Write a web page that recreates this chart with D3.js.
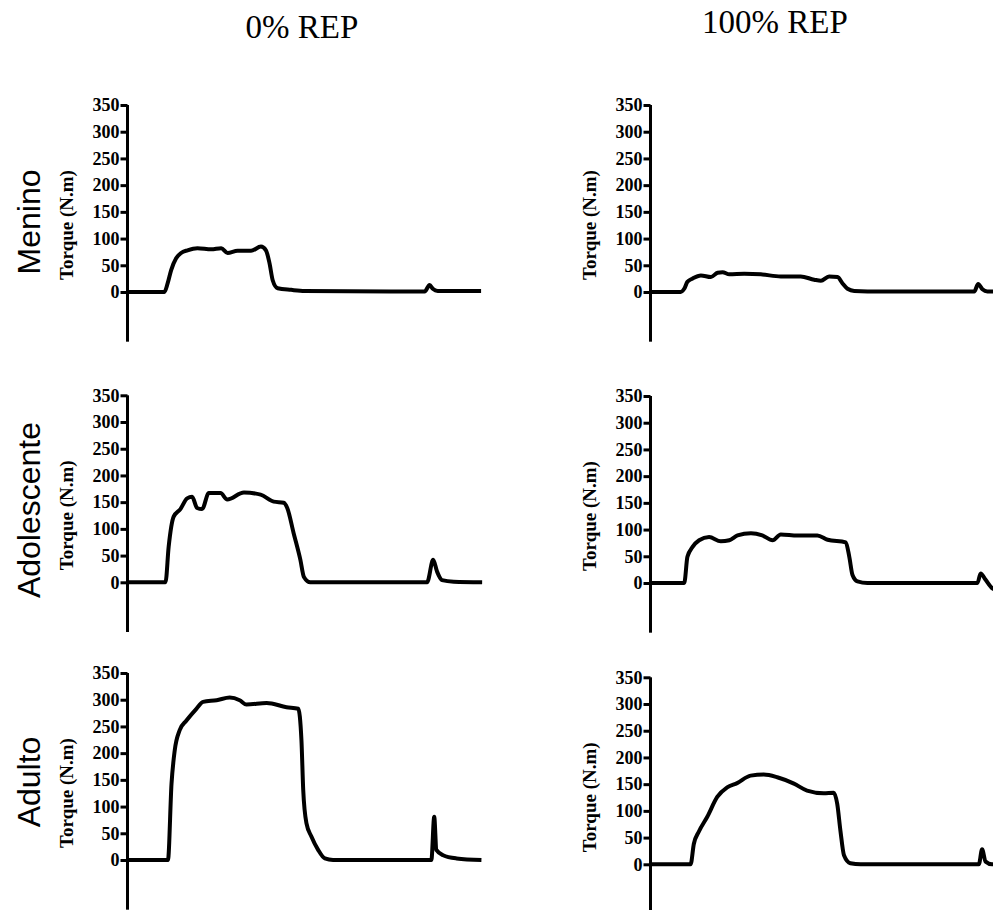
<!DOCTYPE html>
<html>
<head>
<meta charset="utf-8">
<script src="https://cdn.jsdelivr.net/npm/d3@7"></script>
<style>
 body{margin:0;background:#fff}
 .axis path,.axis line{stroke:#000;stroke-width:3}
 .axis text{font-family:"Liberation Serif","Times New Roman",serif;font-weight:bold;font-size:18px;fill:#000}
</style>
</head>
<body>
<svg id="chart" width="993" height="910"></svg>
<script>
// ---- data (time in arbitrary units 0..100, torque in N.m) ----
var columnTitles=["0% REP","100% REP"]
var rowTitles=["Menino","Adolescente","Adulto"]
var yTicks=[0,50,100,150,200,250,300,350]

var meninoRep0T=[0,10.4,11.3,12.3,13.7,15.1,16.9,19.7,23.6,26.4,28.2,31,34.8,37.6,39,40,40.9,42.3,46.1,49.9,83.7,85.1,86,87.4,99.6]
var meninoRep0=[0,0,16,41,63,73,78,82,80,82,73,77,77,85,78,54,22,7,4,2,1,13,6,2,2]

var meninoRep100T=[0,8.5,9.5,10.4,11.8,14.2,17,18.9,20.3,22.2,26.4,31.1,36.7,42.3,46.1,48,50.3,52.7,54.1,55.5,57.4,64.9,91.2,92.3,93.5,94.9,100]
var meninoRep100=[0,0,6,19,25,31,28,36,37,33,34,33,29,29,23,21,29,28,16,6,2,1,1,15,5,1,1]

var adolRep0T=[0,10.7,11.6,13,14.9,16.8,18.2,19.6,21,22.9,26.2,28.1,32.8,37.5,41.2,44,45,46.8,48.7,49.7,51.5,84.4,86.1,87.2,88.6,91.9,99.9]
var adolRep0=[0,0,67,123,137,157,160,139,137,167,167,155,168,164,151,149,139,92,42,10,0,0,42,20,4,1,0]

var adolRep100T=[0,9.5,10.4,11.8,13.7,16.5,19.8,22.2,24.5,28.3,31.5,34.4,36.7,41.4,47,49.9,55,56,56.9,58.3,61.1,92.1,93,94.4,96.3,98]
var adolRep100=[0,0,49,67,80,86,78,80,89,93,89,80,91,89,89,81,76,49,15,3,0,0,18,6,-10,-14]

var adultoRep0T=[0,11.4,12.4,13.3,14.7,16.6,19.4,21.3,25.1,28.8,31.6,33.5,39.2,44.8,48.1,49,49.5,50.4,51.8,53.7,55.6,57.9,85.6,86.4,87,88.9,92.7,99.7]
var adultoRep0=[0,0,143,205,243,261,283,296,299,304,299,291,294,286,283,224,131,69,44,19,3,0,0,81,19,9,3,0]

var adultoRep100T=[0,11.3,12.2,13.6,16,18.8,21.6,24.4,28.2,31.9,35.7,40.4,44.1,48.8,51.6,52.6,53.5,54.5,56.3,59.2,92.5,93.4,94.4,96.2,100]
var adultoRep100=[0,0,38,61,89,126,144,152,166,168,163,151,138,133,134,113,63,17,2,0,0,28,5,0,0]

var panelTimes=[[meninoRep0T,meninoRep100T],[adolRep0T,adolRep100T],[adultoRep0T,adultoRep100T]]
var panelValues=[[meninoRep0,meninoRep100],[adolRep0,adolRep100],[adultoRep0,adultoRep100]]

// ---- layout ----
var colAxisX=[127.5,650.5]
var rowZeroY=[[292,292],[582.3,583],[860,864.3]]
var pxPerUnit=187/350
var plotW=355
var yMin=-93

var svg=d3.select("#chart")

// column titles
svg.append("text").attr("x",302).attr("y",38).attr("text-anchor","middle")
 .attr("font-family","Liberation Serif, Times New Roman, serif").attr("font-size","33px")
 .text(columnTitles[0])
svg.append("text").attr("x",775).attr("y",33).attr("text-anchor","middle")
 .attr("font-family","Liberation Serif, Times New Roman, serif").attr("font-size","33px")
 .text(columnTitles[1])

// row titles
var rowLabelY=[222,510,782]
rowTitles.forEach(function(t,i){
  svg.append("text")
   .attr("transform","translate(40,"+rowLabelY[i]+")rotate(-90)")
   .attr("text-anchor","middle")
   .attr("font-family","Liberation Sans, Arial, sans-serif")
   .attr("font-size","32px")
   .text(t)
})

for(var r=0;r<3;r++)
{
  for(var c=0;c<2;c++)
  {
    var zeroY=rowZeroY[r][c]
    var x0=colAxisX[c]

    var xScale=d3.scaleLinear().domain([0,100]).range([x0,x0+plotW])
    var yScale=d3.scaleLinear().domain([0,350]).range([zeroY,zeroY-350*pxPerUnit])

    // axis line runs below zero like in the original
    svg.append("line")
     .attr("x1",x0).attr("x2",x0)
     .attr("y1",yScale(350)).attr("y2",yScale(yMin))
     .attr("stroke","#000").attr("stroke-width",3)

    var g=svg.append("g").attr("class","axis")
     .attr("transform","translate("+x0+",0)")
     .call(d3.axisLeft(yScale).tickValues(yTicks).tickSize(7).tickPadding(1).tickSizeOuter(0))
    g.select(".domain").remove()

    svg.append("text")
     .attr("transform","translate("+(x0-55)+","+(zeroY-67)+")rotate(-90)")
     .attr("text-anchor","middle")
     .attr("font-family","Liberation Serif, Times New Roman, serif")
     .attr("font-weight","bold")
     .attr("font-size","19px")
     .text("Torque (N.m)")

    var tArr=panelTimes[r][c], vArr=panelValues[r][c]
    var line=d3.line()
     .x(function(d,i){return xScale(tArr[i])})
     .y(function(d){return yScale(d)})
     .curve(d3.curveMonotoneX)

    svg.append("path")
     .datum(vArr)
     .attr("fill","none")
     .attr("stroke","#000")
     .attr("stroke-width",4)
     .attr("stroke-linejoin","round")
     .attr("d",line)
  }
}
</script>
</body>
</html>
